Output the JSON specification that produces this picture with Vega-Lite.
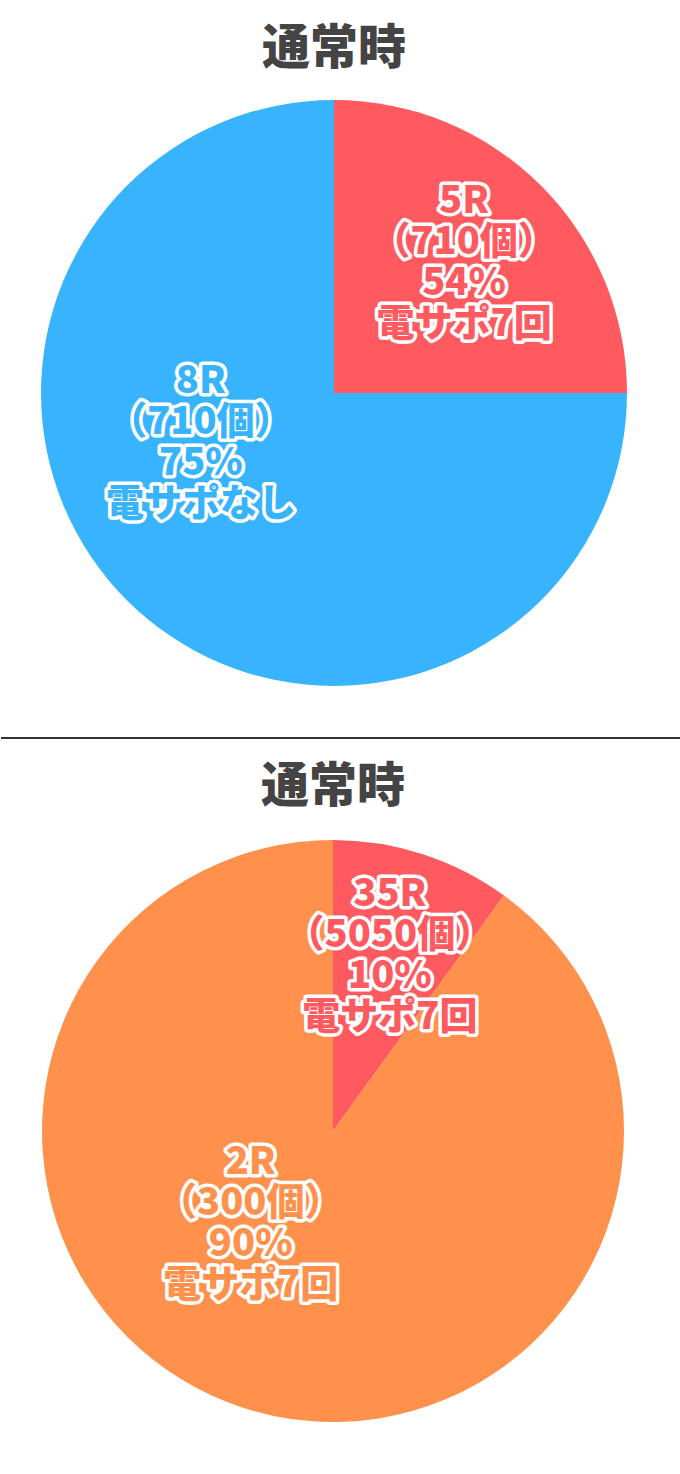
{
  "$schema": "https://vega.github.io/schema/vega-lite/v6.json",
  "padding": {"top": 26, "left": 0, "right": 0, "bottom": 0},
  "background": "white",
  "spacing": 25,
  "config": {
    "view": {"stroke": null},
    "title": {"font": "Noto Sans CJK JP", "fontSize": 48, "fontWeight": 900, "color": "#444444", "anchor": "middle", "offset": 26},
    "text": {"font": "Noto Sans CJK JP", "fontSize": 38, "fontWeight": 900, "lineBreak": "\n", "lineHeight": 41, "align": "center", "baseline": "middle"}
  },
  "vconcat": [
    {
      "title": {"text": "通常時", "offset": 26},
      "width": 666,
      "height": 586,
      "data": {"values": [
        {"segment": "5R", "value": 25, "label": "5R\n（710個）\n54%\n電サポ7回"},
        {"segment": "8R", "value": 75, "label": "8R\n（710個）\n75%\n電サポなし"}
      ]},
      "encoding": {
        "theta": {"field": "value", "type": "quantitative", "stack": true},
        "order": {"field": "value", "sort": "ascending"},
        "color": {"field": "segment", "type": "nominal", "legend": null,
          "scale": {"domain": ["5R", "8R", "35R", "2R"], "range": ["#ff5a5f", "#38b4ff", "#ff5a5f", "#ff914d"]}}
      },
      "layer": [
        {"mark": {"type": "arc"}},
        {"mark": {"type": "text", "radius": 184, "dy": -61, "stroke": "white", "strokeWidth": 7, "strokeJoin": "round"},
         "encoding": {"text": {"condition": {"test": "datum.value < 50", "field": "label"}, "value": ""}, "color": {"value": "white"}}},
        {"mark": {"type": "text", "radius": 184, "dy": -61},
         "encoding": {"text": {"condition": {"test": "datum.value < 50", "field": "label"}, "value": ""}}},
        {"mark": {"type": "text", "radius": 143, "dx": -32, "dy": -112, "stroke": "white", "strokeWidth": 7, "strokeJoin": "round"},
         "encoding": {"text": {"condition": {"test": "datum.value > 50", "field": "label"}, "value": ""}, "color": {"value": "white"}}},
        {"mark": {"type": "text", "radius": 143, "dx": -32, "dy": -112},
         "encoding": {"text": {"condition": {"test": "datum.value > 50", "field": "label"}, "value": ""}}}
      ]
    },
    {
      "width": 680,
      "height": 27,
      "data": {"values": [{"y": 0}]},
      "mark": {"type": "rule", "color": "#333333", "strokeWidth": 2},
      "encoding": {"y": {"field": "y", "type": "quantitative", "axis": null, "scale": {"domain": [0, 1]}}}
    },
    {
      "title": {"text": "通常時", "offset": 28},
      "width": 664,
      "height": 582,
      "data": {"values": [
        {"segment": "35R", "value": 10, "label": "35R\n（5050個）\n10%\n電サポ7回"},
        {"segment": "2R", "value": 90, "label": "2R\n（300個）\n90%\n電サポ7回"}
      ]},
      "encoding": {
        "theta": {"field": "value", "type": "quantitative", "stack": true},
        "order": {"field": "value", "sort": "ascending"},
        "color": {"field": "segment", "type": "nominal", "legend": null,
          "scale": {"domain": ["5R", "8R", "35R", "2R"], "range": ["#ff5a5f", "#38b4ff", "#ff5a5f", "#ff914d"]}}
      },
      "layer": [
        {"mark": {"type": "arc"}},
        {"mark": {"type": "text", "radius": 184, "dy": -61, "stroke": "white", "strokeWidth": 7, "strokeJoin": "round"},
         "encoding": {"text": {"condition": {"test": "datum.value < 50", "field": "label"}, "value": ""}, "color": {"value": "white"}}},
        {"mark": {"type": "text", "radius": 184, "dy": -61},
         "encoding": {"text": {"condition": {"test": "datum.value < 50", "field": "label"}, "value": ""}}},
        {"mark": {"type": "text", "radius": 98, "dx": -52, "dy": -61, "stroke": "white", "strokeWidth": 7, "strokeJoin": "round"},
         "encoding": {"text": {"condition": {"test": "datum.value > 50", "field": "label"}, "value": ""}, "color": {"value": "white"}}},
        {"mark": {"type": "text", "radius": 98, "dx": -52, "dy": -61},
         "encoding": {"text": {"condition": {"test": "datum.value > 50", "field": "label"}, "value": ""}}}
      ]
    }
  ]
}
